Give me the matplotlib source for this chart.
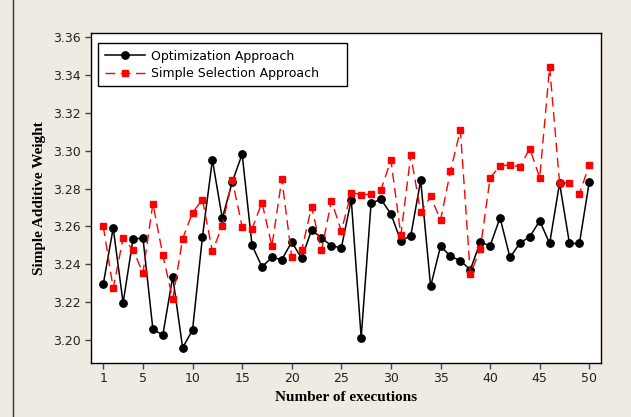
import matplotlib
matplotlib.use("Agg")
import matplotlib.pyplot as plt
from matplotlib.lines import Line2D

executions = list(range(1, 51))

optimization = [
    3.2295, 3.2592, 3.2196, 3.2533, 3.2539, 3.2058, 3.2025, 3.2334, 3.1959, 3.2053,
    3.2546, 3.2952, 3.2643, 3.2835, 3.2982, 3.2500, 3.2387, 3.2436, 3.2425, 3.2518,
    3.2431, 3.2581, 3.2539, 3.2498, 3.2487, 3.2742, 3.2012, 3.2724, 3.2743, 3.2666,
    3.2523, 3.2551, 3.2844, 3.2283, 3.2495, 3.2443, 3.2419, 3.2371, 3.2516, 3.2498,
    3.2646, 3.2436, 3.2512, 3.2546, 3.2630, 3.2510, 3.2829, 3.2510, 3.2510, 3.2837,
]

simple_selection = [
    3.2600, 3.2274, 3.2537, 3.2477, 3.2353, 3.2721, 3.2450, 3.2216, 3.2535, 3.2673,
    3.2742, 3.2468, 3.2604, 3.2846, 3.2599, 3.2588, 3.2726, 3.2496, 3.2851, 3.2438,
    3.2473, 3.2705, 3.2473, 3.2736, 3.2576, 3.2779, 3.2768, 3.2770, 3.2795, 3.2950,
    3.2555, 3.2977, 3.2675, 3.2759, 3.2634, 3.2892, 3.3109, 3.2348, 3.2479, 3.2857,
    3.2920, 3.2926, 3.2915, 3.3012, 3.2857, 3.3443, 3.2830, 3.2830, 3.2772, 3.2926,
]

x_ticks = [1, 5, 10, 15, 20, 25, 30, 35, 40, 45, 50]
y_ticks = [3.20, 3.22, 3.24, 3.26, 3.28, 3.30, 3.32, 3.34, 3.36]

bg = "#efebe2"

fig = plt.figure(figsize=(6.31, 4.17), dpi=100, facecolor=bg)
ax = fig.add_axes([0.1437, 0.1302, 0.8088, 0.7914])
ax.set_facecolor("white")

ax.plot(executions, optimization, color="black", lw=1.1, marker="o",
        markersize=5.3, label="Optimization Approach")
ax.plot(executions, simple_selection, color="red", lw=1.0, dashes=(7, 4),
        marker="s", markersize=4.3, label="Simple Selection Approach")

ax.set_xlim(-0.27, 51.18)
ax.set_ylim(3.188, 3.3624)
ax.set_xticks(x_ticks)
ax.set_yticks(y_ticks)
ax.set_yticklabels([f"{v:.2f}" for v in y_ticks])
ax.tick_params(direction="out", length=4, width=1, color="#444444",
               labelsize=9, labelcolor="#222222", pad=3)
for s in ax.spines.values():
    s.set_linewidth(1.0)
    s.set_color("black")

ax.set_xlabel("Number of executions", fontfamily="Liberation Serif",
              fontweight="bold", fontsize=11, labelpad=4)
ax.set_ylabel("Simple Additive Weight", fontfamily="Liberation Serif",
              fontweight="bold", fontsize=11, labelpad=5)

# legend box stretched to the width seen in the original
leg = ax.legend(loc="upper left", bbox_to_anchor=(0.0149, 0.0, 0.4874, 0.968),
                mode="expand", borderaxespad=0, fancybox=False, framealpha=1,
                edgecolor="black", fontsize=9, handlelength=3.2,
                handletextpad=0.5, labelspacing=0.35, borderpad=0.5)
leg.get_frame().set_linewidth(1.0)

# left border of the original frame
fig.add_artist(Line2D([12.5 / 631, 12.5 / 631], [0, 1], transform=fig.transFigure,
                      color="#333333", lw=1))

fig.savefig("out.png", dpi=100, facecolor=bg)
